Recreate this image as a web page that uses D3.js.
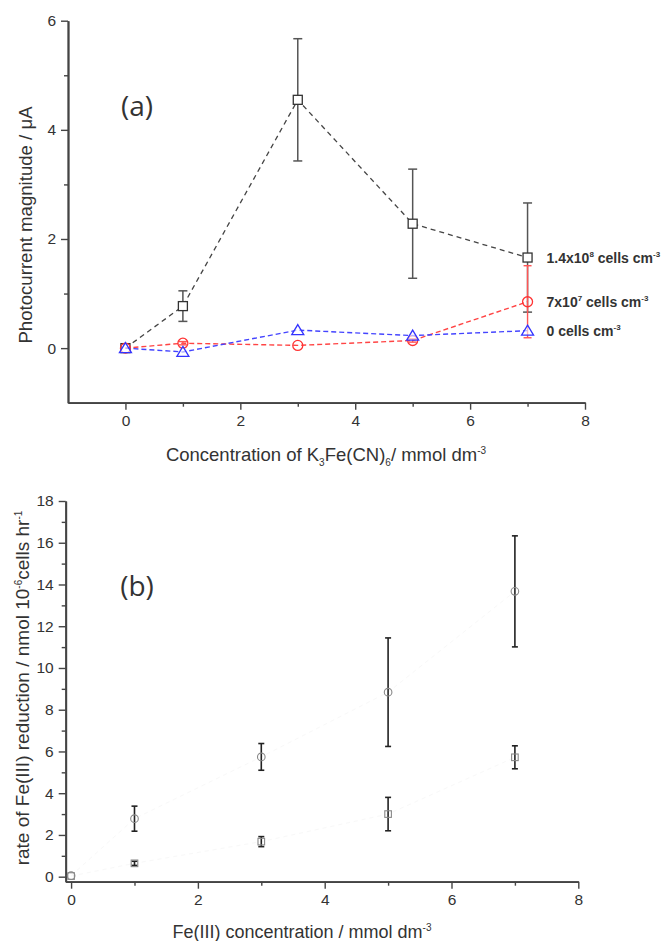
<!DOCTYPE html>
<html>
<head>
<meta charset="utf-8">
<script src="https://cdn.jsdelivr.net/npm/d3@7"></script>
<style>
  html, body { margin: 0; padding: 0; background: #fff; }
  svg { display: block; }
  text { font-family: "Liberation Sans", Arial, sans-serif; fill: #333; }
</style>
</head>
<body>
<script>
// ---- Panel (a): photocurrent vs K3Fe(CN)6 concentration ----
const concA = [0, 1, 3, 5, 7];
const highCells = [0, 0.77, 4.55, 2.28, 1.66];     // 1.4x10^8 cells cm^-3
const highCellsErr = [0, 0.28, 1.12, 1.0, 1.0];
const midCells = [0, 0.09, 0.05, 0.14, 0.85];      // 7x10^7 cells cm^-3
const midCellsErr = [0, 0.03, 0, 0.03, 0.66];
const noCells = [0, -0.07, 0.33, 0.23, 0.32];      // 0 cells cm^-3
const ticksAX = [0, 2, 4, 6, 8];
const minorAX = [1, 3, 5, 7];
const ticksAY = [0, 2, 4, 6];
const minorAY = [1, 3, 5];

// ---- Panel (b): Fe(III) reduction rate vs Fe(III) concentration ----
const concB = [0, 1, 3, 5, 7];
const rateCircles = [0.05, 2.78, 5.74, 8.84, 13.67];
const rateCirclesErr = [0, 0.6, 0.64, 2.6, 2.66];
const rateSquares = [0.03, 0.64, 1.68, 3.0, 5.72];
const rateSquaresErr = [0, 0.1, 0.24, 0.8, 0.55];
const ticksBX = [0, 2, 4, 6, 8];
const minorBX = [1, 3, 5, 7];
const ticksBY = [0, 2, 4, 6, 8, 10, 12, 14, 16, 18];
const minorBY = [1, 3, 5, 7, 9, 11, 13, 15, 17];

const W = 664, H = 941;
const svg = d3.select("body").append("svg").attr("width", W).attr("height", H);
const fmt = d3.format("d");

function drawAxes(g, x, y, major, minor, majorY, minorY) {
  const axisColor = "#444";
  g.append("g").attr("transform", `translate(0,${y.range()[0]})`)
    .call(d3.axisBottom(x).tickValues(major).tickFormat(fmt).tickSize(7).tickSizeOuter(0).tickPadding(5));
  g.append("g").attr("transform", `translate(0,${y.range()[0]})`)
    .call(d3.axisBottom(x).tickValues(minor).tickSize(4).tickSizeOuter(0).tickFormat(""));
  g.append("g").attr("transform", `translate(${x.range()[0]},0)`)
    .call(d3.axisLeft(y).tickValues(majorY).tickFormat(fmt).tickSize(7).tickSizeOuter(0).tickPadding(5));
  g.append("g").attr("transform", `translate(${x.range()[0]},0)`)
    .call(d3.axisLeft(y).tickValues(minorY).tickSize(4).tickSizeOuter(0).tickFormat(""));
  g.selectAll(".domain").attr("stroke", axisColor).attr("stroke-width", 1.8);
  g.selectAll(".tick line").attr("stroke", axisColor).attr("stroke-width", 1.4);
  g.selectAll(".tick text").style("font-family", '"Liberation Sans", Arial, sans-serif')
    .style("font-size", "15.5px").attr("fill", "#333");
}

function errorBars(g, x, y, xs, ys, es, color, cap, width) {
  xs.forEach((xv, i) => {
    if (!es[i]) return;
    const px = x(xv), top = y(ys[i] + es[i]), bot = y(ys[i] - es[i]);
    g.append("line").attr("x1", px).attr("x2", px).attr("y1", top).attr("y2", bot)
      .attr("stroke", color).attr("stroke-width", width);
    [top, bot].forEach(py => g.append("line")
      .attr("x1", px - cap / 2).attr("x2", px + cap / 2).attr("y1", py).attr("y2", py)
      .attr("stroke", color).attr("stroke-width", width));
  });
}

// ================= Panel (a) =================
const gA = svg.append("g");
const xA = d3.scaleLinear().domain([-1, 8]).range([68, 585]);
const yA = d3.scaleLinear().domain([-1, 6]).range([402.7, 20.7]);
drawAxes(gA, xA, yA, ticksAX, minorAX, ticksAY, minorAY);

const lineA = (vals) => d3.line().x((d, i) => xA(concA[i])).y(d => yA(d))(vals);

// 1.4x10^8 cells series
gA.append("path").attr("d", lineA(highCells)).attr("fill", "none")
  .attr("stroke", "#444").attr("stroke-width", 1.3).attr("stroke-dasharray", "5,4");
errorBars(gA, xA, yA, concA, highCells, highCellsErr, "#555", 9, 1.5);
gA.selectAll(".sq").data(highCells).enter().append("rect")
  .attr("x", (d, i) => xA(concA[i]) - 4.5).attr("y", d => yA(d) - 4.5)
  .attr("width", 9).attr("height", 9)
  .attr("fill", "#fff").attr("stroke", "#333").attr("stroke-width", 1.3);

// 7x10^7 cells series
gA.append("path").attr("d", lineA(midCells)).attr("fill", "none")
  .attr("stroke", "#f44").attr("stroke-width", 1.4).attr("stroke-dasharray", "5,3");
errorBars(gA, xA, yA, concA, midCells, midCellsErr, "#f55", 8, 1.4);
gA.selectAll(".ci").data(midCells).enter().append("circle")
  .attr("cx", (d, i) => xA(concA[i])).attr("cy", d => yA(d)).attr("r", 5)
  .attr("fill", "none").attr("stroke", "#f33").attr("stroke-width", 1.3);

// 0 cells series
gA.append("path").attr("d", lineA(noCells)).attr("fill", "none")
  .attr("stroke", "#44f").attr("stroke-width", 1.4).attr("stroke-dasharray", "5,3");
gA.selectAll(".tri").data(noCells).enter().append("path")
  .attr("transform", (d, i) => `translate(${xA(concA[i])},${yA(d)})`)
  .attr("d", "M0,-5.5 L6,4.5 L-6,4.5 Z")
  .attr("fill", "#fff").attr("fill-opacity", 0.6).attr("stroke", "#33f").attr("stroke-width", 1.3);

// series labels
const labels = [
  { v: highCells[4], base: "1.4x10", sup: "8", rest: " cells cm", sup2: "-3" },
  { v: midCells[4], base: "7x10", sup: "7", rest: " cells cm", sup2: "-3" },
  { v: noCells[4], base: "0", sup: "", rest: " cells cm", sup2: "-3" }
];
labels.forEach(l => {
  const t = gA.append("text").attr("x", xA(7) + 19).attr("y", yA(l.v) + 5)
    .style("font-size", "14px").style("font-weight", "bold").attr("fill", "#222");
  t.append("tspan").text(l.base);
  if (l.sup) t.append("tspan").attr("dy", -6).style("font-size", "8px").text(l.sup);
  t.append("tspan").attr("dy", l.sup ? 6 : 0).text(l.rest);
  t.append("tspan").attr("dy", -6).style("font-size", "8px").text(l.sup2);
});

gA.append("text").attr("x", 137).attr("y", 116).attr("text-anchor", "middle")
  .style("font-family", '"Open Sans", sans-serif').style("font-size", "28px").attr("fill", "#111")
  .text("(a)");

// axis titles (a)
const yTitleA = gA.append("text").attr("transform", "translate(32,225) rotate(-90)")
  .attr("text-anchor", "middle").style("font-size", "18.6px");
yTitleA.append("tspan").text("Photocurrent magnitude / \u03bcA");

const xTitleA = gA.append("text").attr("x", 326).attr("y", 461).attr("text-anchor", "middle")
  .style("font-size", "18.5px");
xTitleA.append("tspan").text("Concentration of K");
xTitleA.append("tspan").attr("dy", 5).style("font-size", "10px").text("3");
xTitleA.append("tspan").attr("dy", -5).text("Fe(CN)");
xTitleA.append("tspan").attr("dy", 5).style("font-size", "10px").text("6");
xTitleA.append("tspan").attr("dy", -5).text("/ mmol dm");
xTitleA.append("tspan").attr("dy", -7).style("font-size", "10px").text("-3");

// ================= Panel (b) =================
const gB = svg.append("g");
const xB = d3.scaleLinear().domain([-0.085, 8]).range([65.7, 578.3]);
const yB = d3.scaleLinear().domain([-0.24, 18]).range([881.7, 501]);
drawAxes(gB, xB, yB, ticksBX, minorBX, ticksBY, minorBY);

const lineB = (vals) => d3.line().x((d, i) => xB(concB[i])).y(d => yB(d))(vals);
gB.append("path").attr("d", lineB(rateCircles)).attr("fill", "none")
  .attr("stroke", "#f8f8f8").attr("stroke-width", 1).attr("stroke-dasharray", "4,4");
gB.append("path").attr("d", lineB(rateSquares)).attr("fill", "none")
  .attr("stroke", "#f8f8f8").attr("stroke-width", 1).attr("stroke-dasharray", "4,4");

errorBars(gB, xB, yB, concB, rateCircles, rateCirclesErr, "#222", 6, 1.6);
errorBars(gB, xB, yB, concB, rateSquares, rateSquaresErr, "#222", 6, 1.6);

gB.selectAll(".bc").data(rateCircles).enter().append("circle")
  .attr("cx", (d, i) => xB(concB[i])).attr("cy", d => yB(d)).attr("r", 3.8)
  .attr("fill", "none").attr("stroke", "#888").attr("stroke-width", 1.1);
gB.selectAll(".bs").data(rateSquares).enter().append("rect")
  .attr("x", (d, i) => xB(concB[i]) - 3.3).attr("y", d => yB(d) - 3.3)
  .attr("width", 6.6).attr("height", 6.6)
  .attr("fill", "none").attr("stroke", "#888").attr("stroke-width", 1.1);

gB.append("text").attr("x", 137).attr("y", 596).attr("text-anchor", "middle")
  .style("font-family", '"Open Sans", sans-serif').style("font-size", "28px").attr("fill", "#111")
  .text("(b)");

const yTitleB = gB.append("text").attr("transform", "translate(29,688) rotate(-90)")
  .attr("text-anchor", "middle").style("font-size", "19px");
yTitleB.append("tspan").text("rate of Fe(III) reduction / nmol 10");
yTitleB.append("tspan").attr("dy", -7).style("font-size", "10px").text("-6");
yTitleB.append("tspan").attr("dy", 7).text("cells hr");
yTitleB.append("tspan").attr("dy", -7).style("font-size", "10px").text("-1");

const xTitleB = gB.append("text").attr("x", 302).attr("y", 938).attr("text-anchor", "middle")
  .style("font-size", "18px");
xTitleB.append("tspan").text("Fe(III) concentration / mmol dm");
xTitleB.append("tspan").attr("dy", -7).style("font-size", "10px").text("-3");
</script>
</body>
</html>
